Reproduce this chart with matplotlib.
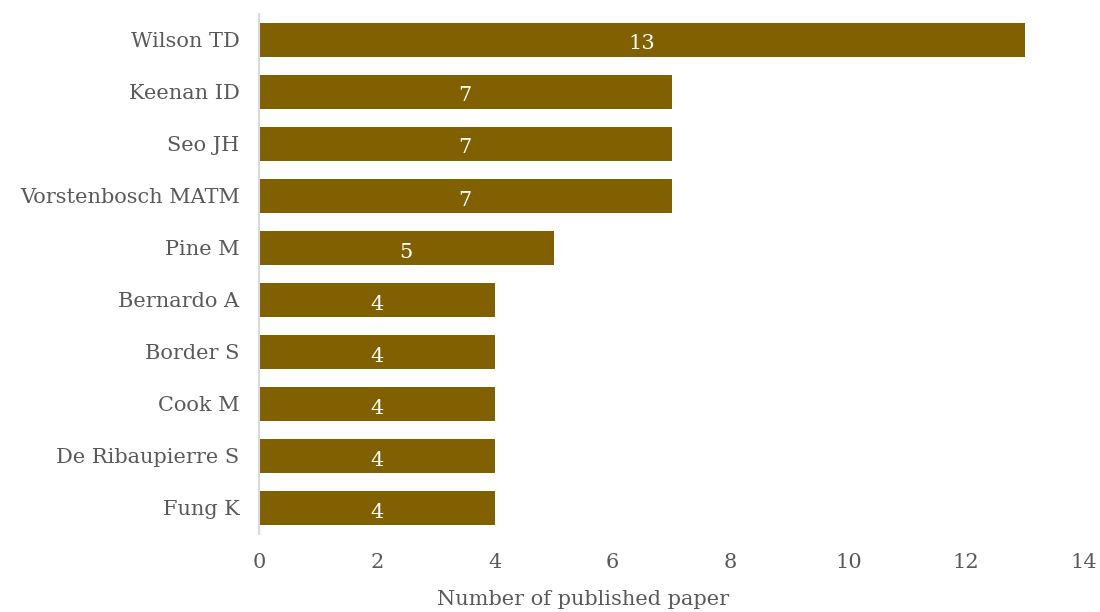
import matplotlib
matplotlib.use("Agg")
import matplotlib.pyplot as plt

# data
authors = ["Wilson TD", "Keenan ID", "Seo JH", "Vorstenbosch MATM", "Pine M",
           "Bernardo A", "Border S", "Cook M", "De Ribaupierre S", "Fung K"]
papers = [13, 7, 7, 7, 5, 4, 4, 4, 4, 4]
xticks = [0, 2, 4, 6, 8, 10, 12, 14]

plt.rcParams["font.family"] = ["DejaVu Serif"]
grey = "#595959"

fig = plt.figure(figsize=(11, 6.12), dpi=100)
ax = fig.add_axes([0.2355, 0.1275, 0.75, 0.85])

ypos = list(range(len(authors)))
bars = ax.barh(ypos, papers, height=0.65, color="#806000")
for y, v in zip(ypos, papers):
    ax.text(v / 2, y + 0.08, str(v), ha="center", va="center",
            color="white", fontsize=15)

ax.set_ylim(len(authors) - 0.5, -0.5)
ax.set_xlim(0, 14)
ax.set_yticks(ypos)
ax.set_yticklabels(authors, fontsize=15, color=grey)
ax.set_xticks(xticks)
ax.set_xticklabels([str(t) for t in xticks], fontsize=15, color=grey)
ax.tick_params(axis="both", length=0)
ax.tick_params(axis="x", pad=14)
ax.tick_params(axis="y", pad=14)
ax.set_xlabel("Number of published paper", fontsize=15, color=grey)
ax.xaxis.set_label_coords(0.393, -0.108)

for s in ["top", "right", "bottom"]:
    ax.spines[s].set_visible(False)
ax.spines["left"].set_color("#d9d9d9")
ax.spines["left"].set_linewidth(1.5)

fig.savefig("out.png", dpi=100)
